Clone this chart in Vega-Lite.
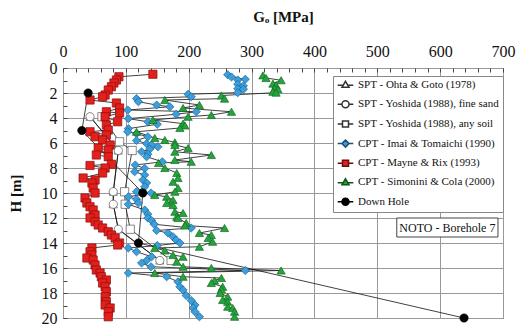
{
  "$schema": "https://vega.github.io/schema/vega-lite/v6.json",
  "width": 440,
  "height": 250,
  "autosize": {"type": "none"},
  "padding": {"left": 63, "top": 68, "right": 26, "bottom": 7},
  "background": "white",
  "config": {
    "view": {"stroke": "#444", "strokeWidth": 1},
    "font": "Liberation Serif",
    "axis": {"labelFont": "Liberation Serif", "titleFont": "Liberation Serif", "labelColor": "#111", "titleColor": "#111"},
    "legend": {"labelFont": "Liberation Serif"},
    "text": {"font": "Liberation Serif"}
  },
  "datasets": {
    "pts": [
      {"s": "SPT - Ohta & Goto (1978)", "G": 43, "H": 3.9},
      {"s": "SPT - Ohta & Goto (1978)", "G": 88, "H": 6.6},
      {"s": "SPT - Ohta & Goto (1978)", "G": 80, "H": 9.9},
      {"s": "SPT - Ohta & Goto (1978)", "G": 80, "H": 10.9},
      {"s": "SPT - Ohta & Goto (1978)", "G": 88, "H": 12.9},
      {"s": "SPT - Ohta & Goto (1978)", "G": 154, "H": 15.4},
      {"s": "SPT - Yoshida (1988), fine sand", "G": 43, "H": 3.9},
      {"s": "SPT - Yoshida (1988), fine sand", "G": 88, "H": 6.6},
      {"s": "SPT - Yoshida (1988), fine sand", "G": 80, "H": 9.9},
      {"s": "SPT - Yoshida (1988), fine sand", "G": 80, "H": 10.9},
      {"s": "SPT - Yoshida (1988), fine sand", "G": 88, "H": 12.9},
      {"s": "SPT - Yoshida (1988), fine sand", "G": 154, "H": 15.4},
      {"s": "SPT - Yoshida (1988), any soil", "G": 62, "H": 3.9},
      {"s": "SPT - Yoshida (1988), any soil", "G": 90, "H": 5.9},
      {"s": "SPT - Yoshida (1988), any soil", "G": 110, "H": 6.6},
      {"s": "SPT - Yoshida (1988), any soil", "G": 98, "H": 9.9},
      {"s": "SPT - Yoshida (1988), any soil", "G": 99, "H": 10.9},
      {"s": "SPT - Yoshida (1988), any soil", "G": 107, "H": 12.9},
      {"s": "SPT - Yoshida (1988), any soil", "G": 172, "H": 15.4},
      {"s": "CPT - Imai & Tomaichi  (1990)", "G": 262, "H": 0.54},
      {"s": "CPT - Imai & Tomaichi  (1990)", "G": 268, "H": 0.72},
      {"s": "CPT - Imai & Tomaichi  (1990)", "G": 290, "H": 0.9},
      {"s": "CPT - Imai & Tomaichi  (1990)", "G": 278, "H": 0.96},
      {"s": "CPT - Imai & Tomaichi  (1990)", "G": 278, "H": 1.3},
      {"s": "CPT - Imai & Tomaichi  (1990)", "G": 287, "H": 1.44},
      {"s": "CPT - Imai & Tomaichi  (1990)", "G": 278, "H": 1.66},
      {"s": "CPT - Imai & Tomaichi  (1990)", "G": 287, "H": 1.7},
      {"s": "CPT - Imai & Tomaichi  (1990)", "G": 278, "H": 1.97},
      {"s": "CPT - Imai & Tomaichi  (1990)", "G": 199, "H": 2.1},
      {"s": "CPT - Imai & Tomaichi  (1990)", "G": 204, "H": 2.3},
      {"s": "CPT - Imai & Tomaichi  (1990)", "G": 117, "H": 2.45},
      {"s": "CPT - Imai & Tomaichi  (1990)", "G": 120, "H": 2.7},
      {"s": "CPT - Imai & Tomaichi  (1990)", "G": 149, "H": 2.96},
      {"s": "CPT - Imai & Tomaichi  (1990)", "G": 170, "H": 3.1},
      {"s": "CPT - Imai & Tomaichi  (1990)", "G": 103, "H": 3.36},
      {"s": "CPT - Imai & Tomaichi  (1990)", "G": 212, "H": 3.5},
      {"s": "CPT - Imai & Tomaichi  (1990)", "G": 180, "H": 3.7},
      {"s": "CPT - Imai & Tomaichi  (1990)", "G": 104, "H": 4.05},
      {"s": "CPT - Imai & Tomaichi  (1990)", "G": 135, "H": 4.3},
      {"s": "CPT - Imai & Tomaichi  (1990)", "G": 150, "H": 4.5},
      {"s": "CPT - Imai & Tomaichi  (1990)", "G": 104, "H": 4.85},
      {"s": "CPT - Imai & Tomaichi  (1990)", "G": 103, "H": 5.1},
      {"s": "CPT - Imai & Tomaichi  (1990)", "G": 117, "H": 5.25},
      {"s": "CPT - Imai & Tomaichi  (1990)", "G": 135, "H": 5.5},
      {"s": "CPT - Imai & Tomaichi  (1990)", "G": 117, "H": 5.8},
      {"s": "CPT - Imai & Tomaichi  (1990)", "G": 133, "H": 6.05},
      {"s": "CPT - Imai & Tomaichi  (1990)", "G": 141, "H": 6.16},
      {"s": "CPT - Imai & Tomaichi  (1990)", "G": 151, "H": 6.3},
      {"s": "CPT - Imai & Tomaichi  (1990)", "G": 138, "H": 6.5},
      {"s": "CPT - Imai & Tomaichi  (1990)", "G": 125, "H": 6.7},
      {"s": "CPT - Imai & Tomaichi  (1990)", "G": 135, "H": 6.9},
      {"s": "CPT - Imai & Tomaichi  (1990)", "G": 133, "H": 7.1},
      {"s": "CPT - Imai & Tomaichi  (1990)", "G": 158, "H": 7.5},
      {"s": "CPT - Imai & Tomaichi  (1990)", "G": 115, "H": 7.76},
      {"s": "CPT - Imai & Tomaichi  (1990)", "G": 130, "H": 8.03},
      {"s": "CPT - Imai & Tomaichi  (1990)", "G": 114, "H": 8.3},
      {"s": "CPT - Imai & Tomaichi  (1990)", "G": 130, "H": 8.56},
      {"s": "CPT - Imai & Tomaichi  (1990)", "G": 127, "H": 8.96},
      {"s": "CPT - Imai & Tomaichi  (1990)", "G": 133, "H": 9.2},
      {"s": "CPT - Imai & Tomaichi  (1990)", "G": 130, "H": 9.5},
      {"s": "CPT - Imai & Tomaichi  (1990)", "G": 117, "H": 9.9},
      {"s": "CPT - Imai & Tomaichi  (1990)", "G": 140, "H": 10.0},
      {"s": "CPT - Imai & Tomaichi  (1990)", "G": 104, "H": 10.3},
      {"s": "CPT - Imai & Tomaichi  (1990)", "G": 117, "H": 10.5},
      {"s": "CPT - Imai & Tomaichi  (1990)", "G": 120, "H": 10.8},
      {"s": "CPT - Imai & Tomaichi  (1990)", "G": 104, "H": 10.9},
      {"s": "CPT - Imai & Tomaichi  (1990)", "G": 130, "H": 11.36},
      {"s": "CPT - Imai & Tomaichi  (1990)", "G": 135, "H": 11.7},
      {"s": "CPT - Imai & Tomaichi  (1990)", "G": 135, "H": 12.0},
      {"s": "CPT - Imai & Tomaichi  (1990)", "G": 141, "H": 12.2},
      {"s": "CPT - Imai & Tomaichi  (1990)", "G": 145, "H": 12.5},
      {"s": "CPT - Imai & Tomaichi  (1990)", "G": 204, "H": 12.8},
      {"s": "CPT - Imai & Tomaichi  (1990)", "G": 149, "H": 13.0},
      {"s": "CPT - Imai & Tomaichi  (1990)", "G": 167, "H": 13.2},
      {"s": "CPT - Imai & Tomaichi  (1990)", "G": 175, "H": 13.5},
      {"s": "CPT - Imai & Tomaichi  (1990)", "G": 180, "H": 13.76},
      {"s": "CPT - Imai & Tomaichi  (1990)", "G": 186, "H": 14.0},
      {"s": "CPT - Imai & Tomaichi  (1990)", "G": 150, "H": 14.2},
      {"s": "CPT - Imai & Tomaichi  (1990)", "G": 104, "H": 14.4},
      {"s": "CPT - Imai & Tomaichi  (1990)", "G": 117, "H": 14.7},
      {"s": "CPT - Imai & Tomaichi  (1990)", "G": 141, "H": 15.1},
      {"s": "CPT - Imai & Tomaichi  (1990)", "G": 133, "H": 15.4},
      {"s": "CPT - Imai & Tomaichi  (1990)", "G": 125, "H": 15.6},
      {"s": "CPT - Imai & Tomaichi  (1990)", "G": 140, "H": 15.9},
      {"s": "CPT - Imai & Tomaichi  (1990)", "G": 290, "H": 16.2},
      {"s": "CPT - Imai & Tomaichi  (1990)", "G": 104, "H": 16.4},
      {"s": "CPT - Imai & Tomaichi  (1990)", "G": 165, "H": 16.7},
      {"s": "CPT - Imai & Tomaichi  (1990)", "G": 183, "H": 17.1},
      {"s": "CPT - Imai & Tomaichi  (1990)", "G": 186, "H": 17.5},
      {"s": "CPT - Imai & Tomaichi  (1990)", "G": 191, "H": 17.76},
      {"s": "CPT - Imai & Tomaichi  (1990)", "G": 196, "H": 18.2},
      {"s": "CPT - Imai & Tomaichi  (1990)", "G": 204, "H": 18.6},
      {"s": "CPT - Imai & Tomaichi  (1990)", "G": 210, "H": 18.96},
      {"s": "CPT - Imai & Tomaichi  (1990)", "G": 207, "H": 19.2},
      {"s": "CPT - Imai & Tomaichi  (1990)", "G": 210, "H": 19.5},
      {"s": "CPT - Imai & Tomaichi  (1990)", "G": 217, "H": 19.9},
      {"s": "CPT - Mayne & Rix (1993)", "G": 143, "H": 0.5},
      {"s": "CPT - Mayne & Rix (1993)", "G": 89, "H": 0.7},
      {"s": "CPT - Mayne & Rix (1993)", "G": 85, "H": 0.96},
      {"s": "CPT - Mayne & Rix (1993)", "G": 81, "H": 1.2},
      {"s": "CPT - Mayne & Rix (1993)", "G": 77, "H": 1.5},
      {"s": "CPT - Mayne & Rix (1993)", "G": 72, "H": 1.76},
      {"s": "CPT - Mayne & Rix (1993)", "G": 67, "H": 2.16},
      {"s": "CPT - Mayne & Rix (1993)", "G": 63, "H": 2.3},
      {"s": "CPT - Mayne & Rix (1993)", "G": 43, "H": 2.56},
      {"s": "CPT - Mayne & Rix (1993)", "G": 85, "H": 2.8},
      {"s": "CPT - Mayne & Rix (1993)", "G": 90, "H": 3.2},
      {"s": "CPT - Mayne & Rix (1993)", "G": 69, "H": 3.5},
      {"s": "CPT - Mayne & Rix (1993)", "G": 90, "H": 3.6},
      {"s": "CPT - Mayne & Rix (1993)", "G": 67, "H": 3.9},
      {"s": "CPT - Mayne & Rix (1993)", "G": 87, "H": 4.3},
      {"s": "CPT - Mayne & Rix (1993)", "G": 69, "H": 4.56},
      {"s": "CPT - Mayne & Rix (1993)", "G": 72, "H": 4.96},
      {"s": "CPT - Mayne & Rix (1993)", "G": 43, "H": 5.1},
      {"s": "CPT - Mayne & Rix (1993)", "G": 69, "H": 5.36},
      {"s": "CPT - Mayne & Rix (1993)", "G": 51, "H": 5.5},
      {"s": "CPT - Mayne & Rix (1993)", "G": 63, "H": 5.76},
      {"s": "CPT - Mayne & Rix (1993)", "G": 75, "H": 6.16},
      {"s": "CPT - Mayne & Rix (1993)", "G": 56, "H": 6.4},
      {"s": "CPT - Mayne & Rix (1993)", "G": 72, "H": 6.56},
      {"s": "CPT - Mayne & Rix (1993)", "G": 53, "H": 6.96},
      {"s": "CPT - Mayne & Rix (1993)", "G": 72, "H": 7.1},
      {"s": "CPT - Mayne & Rix (1993)", "G": 77, "H": 7.7},
      {"s": "CPT - Mayne & Rix (1993)", "G": 43, "H": 7.8},
      {"s": "CPT - Mayne & Rix (1993)", "G": 67, "H": 8.0},
      {"s": "CPT - Mayne & Rix (1993)", "G": 63, "H": 8.4},
      {"s": "CPT - Mayne & Rix (1993)", "G": 32, "H": 8.8},
      {"s": "CPT - Mayne & Rix (1993)", "G": 51, "H": 8.96},
      {"s": "CPT - Mayne & Rix (1993)", "G": 46, "H": 9.2},
      {"s": "CPT - Mayne & Rix (1993)", "G": 48, "H": 9.6},
      {"s": "CPT - Mayne & Rix (1993)", "G": 51, "H": 10.0},
      {"s": "CPT - Mayne & Rix (1993)", "G": 35, "H": 10.4},
      {"s": "CPT - Mayne & Rix (1993)", "G": 38, "H": 10.8},
      {"s": "CPT - Mayne & Rix (1993)", "G": 43, "H": 11.1},
      {"s": "CPT - Mayne & Rix (1993)", "G": 48, "H": 11.36},
      {"s": "CPT - Mayne & Rix (1993)", "G": 51, "H": 11.76},
      {"s": "CPT - Mayne & Rix (1993)", "G": 43, "H": 12.0},
      {"s": "CPT - Mayne & Rix (1993)", "G": 51, "H": 12.3},
      {"s": "CPT - Mayne & Rix (1993)", "G": 56, "H": 12.56},
      {"s": "CPT - Mayne & Rix (1993)", "G": 63, "H": 12.8},
      {"s": "CPT - Mayne & Rix (1993)", "G": 72, "H": 13.1},
      {"s": "CPT - Mayne & Rix (1993)", "G": 77, "H": 13.36},
      {"s": "CPT - Mayne & Rix (1993)", "G": 83, "H": 13.6},
      {"s": "CPT - Mayne & Rix (1993)", "G": 90, "H": 14.0},
      {"s": "CPT - Mayne & Rix (1993)", "G": 87, "H": 14.16},
      {"s": "CPT - Mayne & Rix (1993)", "G": 46, "H": 14.4},
      {"s": "CPT - Mayne & Rix (1993)", "G": 43, "H": 14.7},
      {"s": "CPT - Mayne & Rix (1993)", "G": 46, "H": 14.96},
      {"s": "CPT - Mayne & Rix (1993)", "G": 38, "H": 15.2},
      {"s": "CPT - Mayne & Rix (1993)", "G": 48, "H": 15.36},
      {"s": "CPT - Mayne & Rix (1993)", "G": 51, "H": 15.76},
      {"s": "CPT - Mayne & Rix (1993)", "G": 53, "H": 16.16},
      {"s": "CPT - Mayne & Rix (1993)", "G": 59, "H": 16.4},
      {"s": "CPT - Mayne & Rix (1993)", "G": 61, "H": 16.7},
      {"s": "CPT - Mayne & Rix (1993)", "G": 69, "H": 16.96},
      {"s": "CPT - Mayne & Rix (1993)", "G": 63, "H": 17.2},
      {"s": "CPT - Mayne & Rix (1993)", "G": 67, "H": 17.5},
      {"s": "CPT - Mayne & Rix (1993)", "G": 69, "H": 17.9},
      {"s": "CPT - Mayne & Rix (1993)", "G": 67, "H": 18.3},
      {"s": "CPT - Mayne & Rix (1993)", "G": 69, "H": 18.7},
      {"s": "CPT - Mayne & Rix (1993)", "G": 67, "H": 18.96},
      {"s": "CPT - Mayne & Rix (1993)", "G": 75, "H": 19.2},
      {"s": "CPT - Mayne & Rix (1993)", "G": 72, "H": 19.5},
      {"s": "CPT - Mayne & Rix (1993)", "G": 72, "H": 19.9},
      {"s": "CPT - Simonini & Cola (2000)", "G": 318, "H": 0.59},
      {"s": "CPT - Simonini & Cola (2000)", "G": 323, "H": 0.8},
      {"s": "CPT - Simonini & Cola (2000)", "G": 347, "H": 0.98},
      {"s": "CPT - Simonini & Cola (2000)", "G": 334, "H": 1.25},
      {"s": "CPT - Simonini & Cola (2000)", "G": 339, "H": 1.38},
      {"s": "CPT - Simonini & Cola (2000)", "G": 337, "H": 1.62},
      {"s": "CPT - Simonini & Cola (2000)", "G": 342, "H": 1.7},
      {"s": "CPT - Simonini & Cola (2000)", "G": 334, "H": 1.9},
      {"s": "CPT - Simonini & Cola (2000)", "G": 339, "H": 1.97},
      {"s": "CPT - Simonini & Cola (2000)", "G": 252, "H": 2.2},
      {"s": "CPT - Simonini & Cola (2000)", "G": 257, "H": 2.45},
      {"s": "CPT - Simonini & Cola (2000)", "G": 162, "H": 2.56},
      {"s": "CPT - Simonini & Cola (2000)", "G": 217, "H": 2.96},
      {"s": "CPT - Simonini & Cola (2000)", "G": 191, "H": 3.2},
      {"s": "CPT - Simonini & Cola (2000)", "G": 268, "H": 3.5},
      {"s": "CPT - Simonini & Cola (2000)", "G": 236, "H": 3.76},
      {"s": "CPT - Simonini & Cola (2000)", "G": 199, "H": 3.9},
      {"s": "CPT - Simonini & Cola (2000)", "G": 143, "H": 4.16},
      {"s": "CPT - Simonini & Cola (2000)", "G": 191, "H": 4.45},
      {"s": "CPT - Simonini & Cola (2000)", "G": 194, "H": 4.6},
      {"s": "CPT - Simonini & Cola (2000)", "G": 186, "H": 4.8},
      {"s": "CPT - Simonini & Cola (2000)", "G": 117, "H": 5.1},
      {"s": "CPT - Simonini & Cola (2000)", "G": 146, "H": 5.6},
      {"s": "CPT - Simonini & Cola (2000)", "G": 162, "H": 5.76},
      {"s": "CPT - Simonini & Cola (2000)", "G": 178, "H": 5.95},
      {"s": "CPT - Simonini & Cola (2000)", "G": 178, "H": 6.16},
      {"s": "CPT - Simonini & Cola (2000)", "G": 199, "H": 6.4},
      {"s": "CPT - Simonini & Cola (2000)", "G": 178, "H": 6.7},
      {"s": "CPT - Simonini & Cola (2000)", "G": 236, "H": 6.96},
      {"s": "CPT - Simonini & Cola (2000)", "G": 178, "H": 7.36},
      {"s": "CPT - Simonini & Cola (2000)", "G": 204, "H": 7.5},
      {"s": "CPT - Simonini & Cola (2000)", "G": 152, "H": 7.6},
      {"s": "CPT - Simonini & Cola (2000)", "G": 162, "H": 8.0},
      {"s": "CPT - Simonini & Cola (2000)", "G": 181, "H": 8.4},
      {"s": "CPT - Simonini & Cola (2000)", "G": 183, "H": 8.8},
      {"s": "CPT - Simonini & Cola (2000)", "G": 175, "H": 9.1},
      {"s": "CPT - Simonini & Cola (2000)", "G": 183, "H": 9.6},
      {"s": "CPT - Simonini & Cola (2000)", "G": 178, "H": 9.9},
      {"s": "CPT - Simonini & Cola (2000)", "G": 146, "H": 10.16},
      {"s": "CPT - Simonini & Cola (2000)", "G": 165, "H": 10.3},
      {"s": "CPT - Simonini & Cola (2000)", "G": 175, "H": 10.56},
      {"s": "CPT - Simonini & Cola (2000)", "G": 165, "H": 10.8},
      {"s": "CPT - Simonini & Cola (2000)", "G": 175, "H": 10.96},
      {"s": "CPT - Simonini & Cola (2000)", "G": 178, "H": 11.5},
      {"s": "CPT - Simonini & Cola (2000)", "G": 191, "H": 11.6},
      {"s": "CPT - Simonini & Cola (2000)", "G": 181, "H": 11.9},
      {"s": "CPT - Simonini & Cola (2000)", "G": 183, "H": 12.0},
      {"s": "CPT - Simonini & Cola (2000)", "G": 196, "H": 12.4},
      {"s": "CPT - Simonini & Cola (2000)", "G": 194, "H": 12.6},
      {"s": "CPT - Simonini & Cola (2000)", "G": 257, "H": 12.8},
      {"s": "CPT - Simonini & Cola (2000)", "G": 217, "H": 13.2},
      {"s": "CPT - Simonini & Cola (2000)", "G": 236, "H": 13.36},
      {"s": "CPT - Simonini & Cola (2000)", "G": 231, "H": 13.6},
      {"s": "CPT - Simonini & Cola (2000)", "G": 238, "H": 13.9},
      {"s": "CPT - Simonini & Cola (2000)", "G": 217, "H": 14.3},
      {"s": "CPT - Simonini & Cola (2000)", "G": 146, "H": 14.4},
      {"s": "CPT - Simonini & Cola (2000)", "G": 162, "H": 14.6},
      {"s": "CPT - Simonini & Cola (2000)", "G": 175, "H": 14.96},
      {"s": "CPT - Simonini & Cola (2000)", "G": 191, "H": 15.1},
      {"s": "CPT - Simonini & Cola (2000)", "G": 181, "H": 15.5},
      {"s": "CPT - Simonini & Cola (2000)", "G": 191, "H": 15.9},
      {"s": "CPT - Simonini & Cola (2000)", "G": 236, "H": 16.0},
      {"s": "CPT - Simonini & Cola (2000)", "G": 347, "H": 16.2},
      {"s": "CPT - Simonini & Cola (2000)", "G": 146, "H": 16.4},
      {"s": "CPT - Simonini & Cola (2000)", "G": 191, "H": 16.7},
      {"s": "CPT - Simonini & Cola (2000)", "G": 252, "H": 16.8},
      {"s": "CPT - Simonini & Cola (2000)", "G": 241, "H": 17.0},
      {"s": "CPT - Simonini & Cola (2000)", "G": 236, "H": 17.2},
      {"s": "CPT - Simonini & Cola (2000)", "G": 254, "H": 17.5},
      {"s": "CPT - Simonini & Cola (2000)", "G": 252, "H": 17.7},
      {"s": "CPT - Simonini & Cola (2000)", "G": 250, "H": 18.0},
      {"s": "CPT - Simonini & Cola (2000)", "G": 262, "H": 18.3},
      {"s": "CPT - Simonini & Cola (2000)", "G": 254, "H": 18.56},
      {"s": "CPT - Simonini & Cola (2000)", "G": 262, "H": 18.7},
      {"s": "CPT - Simonini & Cola (2000)", "G": 262, "H": 19.1},
      {"s": "CPT - Simonini & Cola (2000)", "G": 270, "H": 19.2},
      {"s": "CPT - Simonini & Cola (2000)", "G": 273, "H": 19.5},
      {"s": "CPT - Simonini & Cola (2000)", "G": 273, "H": 19.9},
      {"s": "Down Hole", "G": 40, "H": 2.0},
      {"s": "Down Hole", "G": 30, "H": 5.0},
      {"s": "Down Hole", "G": 127, "H": 10.0},
      {"s": "Down Hole", "G": 120, "H": 14.0},
      {"s": "Down Hole", "G": 638, "H": 20.0}
    ],
    "note": [{"label": "NOTO - Borehole 7"}]
  },
  "data": {"name": "pts"},
  "layer": [
    {
      "mark": {"type": "line", "color": "#111", "strokeWidth": 0.8},
      "encoding": {
        "x": {
          "field": "G", "type": "quantitative",
          "scale": {"domain": [0, 700], "nice": false, "zero": false},
          "axis": {
            "orient": "top",
            "title": "Gₒ [MPa]",
            "values": [0,20,40,60,80,100,120,140,160,180,200,220,240,260,280,300,320,340,360,380,400,420,440,460,480,500,520,540,560,580,600,620,640,660,680,700],
            "tickCount": 100,
            "format": "d",
            "labelExpr": "datum.value % 100 === 0 ? datum.label : ''",
            "labelOverlap": false,
            "labelFlush": false,
            "labelFontSize": 16,
            "labelPadding": 13,
            "tickSize": -4,
            "tickColor": "#444",
            "domain": false,
            "grid": true,
            "gridColor": "#999",
            "gridOpacity": {"condition": {"test": "datum.value % 100 === 0", "value": 1}, "value": 0},
            "titleFontSize": 15,
            "titleFontWeight": "bold",
            "titlePadding": 19
          }
        },
        "y": {
          "field": "H", "type": "quantitative",
          "scale": {"domain": [0, 20], "nice": false, "reverse": true},
          "axis": {
            "title": "H [m]",
            "values": [0,0.5,1,1.5,2,2.5,3,3.5,4,4.5,5,5.5,6,6.5,7,7.5,8,8.5,9,9.5,10,10.5,11,11.5,12,12.5,13,13.5,14,14.5,15,15.5,16,16.5,17,17.5,18,18.5,19,19.5,20],
            "tickCount": 100,
            "format": "d",
            "labelExpr": "datum.value % 2 === 0 ? datum.label : ''",
            "labelOverlap": false,
            "labelFlush": false,
            "labelFontSize": 16,
            "labelPadding": 10,
            "tickSize": -4,
            "tickColor": "#444",
            "domain": false,
            "grid": true,
            "gridColor": "#999",
            "gridOpacity": {"condition": {"test": "datum.value % 2 === 0", "value": 1}, "value": 0},
            "titleFontSize": 15,
            "titleFontWeight": "bold",
            "titlePadding": 18
          }
        },
        "detail": {"field": "s", "type": "nominal"},
        "order": {"field": "H", "type": "quantitative"}
      }
    },
    {
      "mark": {"type": "point", "filled": true, "opacity": 1, "size": 68, "strokeWidth": 0.7},
      "encoding": {
        "x": {"field": "G", "type": "quantitative"},
        "y": {"field": "H", "type": "quantitative"},
        "shape": {
          "field": "s", "type": "nominal", "legend": null,
          "scale": {
            "domain": ["SPT - Ohta & Goto (1978)", "SPT - Yoshida (1988), fine sand", "SPT - Yoshida (1988), any soil", "CPT - Imai & Tomaichi  (1990)", "CPT - Mayne & Rix (1993)", "CPT - Simonini & Cola (2000)", "Down Hole"],
            "range": ["triangle-up", "circle", "square", "diamond", "square", "triangle-up", "circle"]
          }
        },
        "fill": {
          "field": "s", "type": "nominal", "legend": null,
          "scale": {
            "domain": ["SPT - Ohta & Goto (1978)", "SPT - Yoshida (1988), fine sand", "SPT - Yoshida (1988), any soil", "CPT - Imai & Tomaichi  (1990)", "CPT - Mayne & Rix (1993)", "CPT - Simonini & Cola (2000)", "Down Hole"],
            "range": ["#ffffff", "#ffffff", "#ffffff", "#3a9fdc", "#e3201c", "#25a33c", "#000000"]
          }
        },
        "stroke": {
          "field": "s", "type": "nominal", "legend": null,
          "scale": {
            "domain": ["SPT - Ohta & Goto (1978)", "SPT - Yoshida (1988), fine sand", "SPT - Yoshida (1988), any soil", "CPT - Imai & Tomaichi  (1990)", "CPT - Mayne & Rix (1993)", "CPT - Simonini & Cola (2000)", "Down Hole"],
            "range": ["#555555", "#555555", "#555555", "#1d6290", "#8a1010", "#136b22", "#000000"]
          }
        }
      }
    },
    {
      "mark": {"type": "point", "filled": true, "opacity": 0, "strokeWidth": 0.8},
      "encoding": {
        "x": {"field": "G", "type": "quantitative"},
        "y": {"field": "H", "type": "quantitative"},
        "shape": {
          "field": "s", "type": "nominal",
          "scale": {
            "domain": ["SPT - Ohta & Goto (1978)", "SPT - Yoshida (1988), fine sand", "SPT - Yoshida (1988), any soil", "CPT - Imai & Tomaichi  (1990)", "CPT - Mayne & Rix (1993)", "CPT - Simonini & Cola (2000)", "Down Hole"],
            "range": [
              "M-2.2,0.2H-0.6M0.6,0.2H2.2M0,-0.9L1,0.8H-1Z",
              "M-2.2,0H-1M1,0H2.2M1,0A1,1,0,1,1,-1,0A1,1,0,1,1,1,0Z",
              "M-2.2,0H-0.85M0.85,0H2.2M-0.85,-0.85H0.85V0.85H-0.85Z",
              "M-2.2,0H-1M1,0H2.2M0,-1L1,0L0,1L-1,0Z",
              "M-2.2,0H-0.85M0.85,0H2.2M-0.85,-0.85H0.85V0.85H-0.85Z",
              "M-2.2,0.2H-0.6M0.6,0.2H2.2M0,-0.9L1,0.8H-1Z",
              "M-2.2,0H-1M1,0H2.2M1,0A1,1,0,1,1,-1,0A1,1,0,1,1,1,0Z"
            ]
          },
          "legend": {
            "title": null,
            "orient": "none",
            "legendX": 270,
            "legendY": 8,
            "direction": "vertical",
            "fillColor": "white",
            "strokeColor": "#888",
            "padding": 3,
            "rowPadding": 5.7,
            "symbolSize": 50,
            "symbolOpacity": 1,
            "symbolOffset": 4,
            "labelOffset": 7,
            "labelFont": "Liberation Serif",
            "labelFontSize": 11,
            "labelColor": "#111",
            "labelLimit": 0
          }
        },
        "fill": {
          "field": "s", "type": "nominal",
          "scale": {
            "domain": ["SPT - Ohta & Goto (1978)", "SPT - Yoshida (1988), fine sand", "SPT - Yoshida (1988), any soil", "CPT - Imai & Tomaichi  (1990)", "CPT - Mayne & Rix (1993)", "CPT - Simonini & Cola (2000)", "Down Hole"],
            "range": ["#ffffff", "#ffffff", "#ffffff", "#3a9fdc", "#e3201c", "#25a33c", "#000000"]
          }
        },
        "stroke": {
          "field": "s", "type": "nominal",
          "scale": {
            "domain": ["SPT - Ohta & Goto (1978)", "SPT - Yoshida (1988), fine sand", "SPT - Yoshida (1988), any soil", "CPT - Imai & Tomaichi  (1990)", "CPT - Mayne & Rix (1993)", "CPT - Simonini & Cola (2000)", "Down Hole"],
            "range": ["#333333", "#333333", "#333333", "#1d4f70", "#6a0c0c", "#0f5119", "#000000"]
          }
        }
      }
    },
    {
      "data": {"name": "note"},
      "mark": {"type": "rect", "fill": "white", "stroke": "#444", "strokeWidth": 1},
      "encoding": {
        "x": {"datum": 531, "type": "quantitative"},
        "x2": {"datum": 692},
        "y": {"datum": 12.0, "type": "quantitative"},
        "y2": {"datum": 13.52}
      }
    },
    {
      "data": {"name": "note"},
      "mark": {"type": "text", "font": "Liberation Serif", "fontSize": 12, "color": "#111", "align": "center", "baseline": "middle"},
      "encoding": {
        "x": {"datum": 611.5, "type": "quantitative"},
        "y": {"datum": 12.78, "type": "quantitative"},
        "text": {"field": "label"}
      }
    }
  ],
  "resolve": {"scale": {"shape": "independent", "fill": "independent", "stroke": "independent"}}
}
